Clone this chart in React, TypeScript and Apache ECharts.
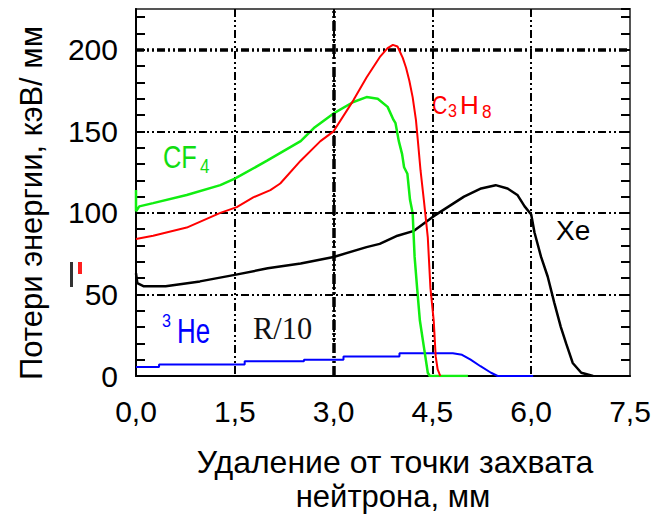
import React, { useEffect, useRef } from "react";
import * as echarts from "echarts";

// Axis setup
const xMin = 0;
const xMax = 7.5;
const xStep = 1.5;
const yMin = 0;
const yMax = 225;
const yTickStep = 10;
const yLabelStep = 50;
const hGridThin = [50, 100, 150];
const hGridThick = [200];
const vGridThick = [3.0];

// C3H8 (red)
const c3h8X = [0, 0.26, 0.77, 1.28, 1.53, 1.78, 2.04, 2.19, 2.5, 2.8, 3.0, 3.3, 3.5, 3.71, 3.82, 3.9, 3.97, 4.05, 4.1, 4.15, 4.2, 4.25, 4.28, 4.32, 4.37, 4.43, 4.47, 4.52, 4.55, 4.58, 4.62];
const c3h8Y = [84, 86, 91, 100, 103.5, 109.5, 114, 118, 132, 144, 150, 169, 183, 196, 201, 203, 202, 195, 189, 181, 171, 157, 144, 126, 108, 85, 54, 34, 12, 4, 0];

// CF4 (green)
const cf4X = [0, 0, 0.05, 0.26, 0.77, 1.28, 1.5, 1.99, 2.5, 2.7, 3.0, 3.3, 3.5, 3.67, 3.82, 3.91, 3.94, 3.99, 4.04, 4.07, 4.12, 4.16, 4.2, 4.23, 4.27, 4.31, 4.37, 4.43, 4.46, 5.04];
const cf4Y = [114, 101, 104, 106, 111, 117, 121, 132, 144, 152, 161, 168, 171, 170, 165, 157, 155, 144, 136, 128, 124, 108, 100, 73, 53, 34, 18, 2, 0, 0];

// Xe (black)
const xeX = [0, 0.02, 0.12, 0.45, 0.97, 1.5, 2.0, 2.5, 3.0, 3.5, 3.7, 3.97, 4.22, 4.52, 4.75, 4.98, 5.24, 5.46, 5.64, 5.79, 5.9, 6.0, 6.05, 6.15, 6.25, 6.35, 6.45, 6.53, 6.63, 6.76, 6.94];
const xeY = [63, 57, 55, 55, 58, 62, 66, 69, 73, 79, 81, 86, 89, 98, 104, 110, 115, 117, 115, 111, 104, 99, 88, 73, 61, 45, 30, 20, 8, 2, 0];

// 3He, R/10 (blue)
const heX = [0, 0.35, 0.35, 1.65, 1.65, 2.55, 2.55, 3.15, 3.15, 4.0, 4.0, 4.81, 4.95, 5.08, 5.23, 5.39, 5.49, 6.03];
const heY = [5.5, 5.5, 7, 7, 9, 9, 10, 10, 12, 12, 14, 14, 13, 10, 6, 2, 0, 0];

const zip = (xs: number[], ys: number[]) => xs.map((x, i) => [x, ys[i]]);

const FONT = "'Liberation Sans', Arial, sans-serif";
const gridDash = [8, 3, 2, 3, 2, 3];

export default function App() {
  const ref = useRef<HTMLDivElement>(null);
  useEffect(() => {
    const chart = echarts.init(ref.current!, null, { renderer: "svg" });
    chart.setOption({
      animation: false,
      backgroundColor: "#fff",
      grid: {
        left: 136,
        right: 30,
        top: 9,
        bottom: 140,
        show: true,
        borderColor: "#555",
        borderWidth: 2,
      },
      xAxis: {
        type: "value",
        min: xMin,
        max: xMax,
        interval: xStep,
        axisLine: { show: true, lineStyle: { color: "#000", width: 2 } },
        axisTick: { show: false },
        axisLabel: {
          color: "#000",
          fontSize: 30,
          fontFamily: FONT,
          margin: 20,
          formatter: (v: number) => v.toFixed(1).replace(".", ","),
        },
        splitLine: { show: true, lineStyle: { color: "#000", width: 2, type: gridDash } },
      },
      yAxis: [
        {
          type: "value",
          min: yMin,
          max: yMax,
          interval: yTickStep,
          position: "left",
          splitLine: { show: false },
          axisLine: { show: true, lineStyle: { color: "#000", width: 2 } },
          axisTick: { show: true, inside: true, length: 9, lineStyle: { color: "#000", width: 2 } },
          axisLabel: {
            color: "#000",
            fontSize: 30,
            fontFamily: FONT,
            margin: 18,
            showMaxLabel: false,
            formatter: (v: number) => (v % yLabelStep === 0 ? String(v) : ""),
          },
        },
        {
          type: "value",
          min: yMin,
          max: yMax,
          interval: yTickStep,
          position: "right",
          splitLine: { show: false },
          axisLine: { show: true, lineStyle: { color: "#555", width: 2 } },
          axisTick: { show: true, inside: true, length: 9, lineStyle: { color: "#000", width: 2 } },
          axisLabel: { show: false },
        },
      ],
      series: [
        {
          type: "line",
          data: [],
          z: 1,
          silent: true,
          markLine: {
            silent: true,
            symbol: "none",
            label: { show: false },
            data: [
              ...hGridThin.map((v) => ({ yAxis: v, lineStyle: { color: "#000", width: 2, type: gridDash } })),
              ...hGridThick.map((v) => ({ yAxis: v, lineStyle: { color: "#000", width: 3.5, type: gridDash } })),
              ...vGridThick.map((v) => ({ xAxis: v, lineStyle: { color: "#000", width: 3.5, type: [10, 3, 2, 3, 2, 3] } })),
            ],
          },
        },
        { type: "line", name: "Xe", data: zip(xeX, xeY), symbol: "none", z: 3, lineStyle: { color: "#000", width: 2.5 } },
        { type: "line", name: "3He", data: zip(heX, heY), symbol: "none", z: 3, lineStyle: { color: "#0000ff", width: 2 } },
        { type: "line", name: "CF4", data: zip(cf4X, cf4Y), symbol: "none", z: 4, lineStyle: { color: "#11ee11", width: 2.5 } },
        { type: "line", name: "C3H8", data: zip(c3h8X, c3h8Y), symbol: "none", z: 5, lineStyle: { color: "#ff0000", width: 2 } },
      ],
      graphic: [
        // Y axis title
        {
          type: "text",
          x: 31,
          y: 203,
          rotation: Math.PI / 2,
          style: { text: "Потери энергии, кэВ/ мм", fontSize: 31, fontFamily: FONT, fill: "#000", align: "center", verticalAlign: "middle" },
        },
        // X axis title
        {
          type: "text",
          x: 395,
          y: 462,
          style: { text: "Удаление от точки захвата", fontSize: 32, fontFamily: FONT, fill: "#000", align: "center", verticalAlign: "middle" },
        },
        {
          type: "text",
          x: 393,
          y: 496,
          style: { text: "нейтрона, мм", fontSize: 31, fontFamily: FONT, fill: "#000", align: "center", verticalAlign: "middle" },
        },
        // CF4
        { type: "text", x: 163, y: 157, scaleX: 0.82, style: { text: "CF", fontSize: 31, fontFamily: FONT, fill: "#11dd11", align: "left", verticalAlign: "middle" } },
        { type: "text", x: 200, y: 166, scaleX: 0.85, style: { text: "4", fontSize: 20, fontFamily: FONT, fill: "#11dd11", align: "left", verticalAlign: "middle" } },
        // C3H8
        { type: "text", x: 432, y: 105, scaleX: 0.85, style: { text: "C", fontSize: 25, fontFamily: FONT, fill: "#ff0000", align: "left", verticalAlign: "middle" } },
        { type: "text", x: 448, y: 111, scaleX: 0.85, style: { text: "3", fontSize: 19, fontFamily: FONT, fill: "#ff0000", align: "left", verticalAlign: "middle" } },
        { type: "text", x: 460, y: 105, scaleX: 1.0, style: { text: "H", fontSize: 26, fontFamily: FONT, fill: "#ff0000", align: "left", verticalAlign: "middle" } },
        { type: "text", x: 482, y: 112, scaleX: 0.9, style: { text: "8", fontSize: 19, fontFamily: FONT, fill: "#ff0000", align: "left", verticalAlign: "middle" } },
        // Xe
        { type: "text", x: 556, y: 230, style: { text: "Xe", fontSize: 28, fontFamily: FONT, fill: "#000", align: "left", verticalAlign: "middle" } },
        // 3He
        { type: "text", x: 162, y: 321, scaleX: 0.85, style: { text: "3", fontSize: 19, fontFamily: FONT, fill: "#0000ff", align: "left", verticalAlign: "middle" } },
        { type: "text", x: 177, y: 331, scaleX: 0.72, style: { text: "He", fontSize: 36, fontFamily: FONT, fill: "#0000ff", align: "left", verticalAlign: "middle" } },
        // R/10
        { type: "text", x: 253, y: 328, scaleX: 0.95, style: { text: "R/10", fontSize: 32, fontFamily: "'Liberation Serif', 'Times New Roman', serif", fill: "#111", align: "left", verticalAlign: "middle" } },
        // small artifacts near the y labels
        { type: "rect", shape: { x: 70, y: 262, width: 3, height: 25 }, style: { fill: "#333" } },
        { type: "rect", shape: { x: 78, y: 262, width: 4, height: 12 }, style: { fill: "#ff2020" } },
      ],
    });
    return () => chart.dispose();
  }, []);
  return <div ref={ref} style={{ position: "fixed", left: 0, top: 0, width: 660, height: 516 }} />;
}
